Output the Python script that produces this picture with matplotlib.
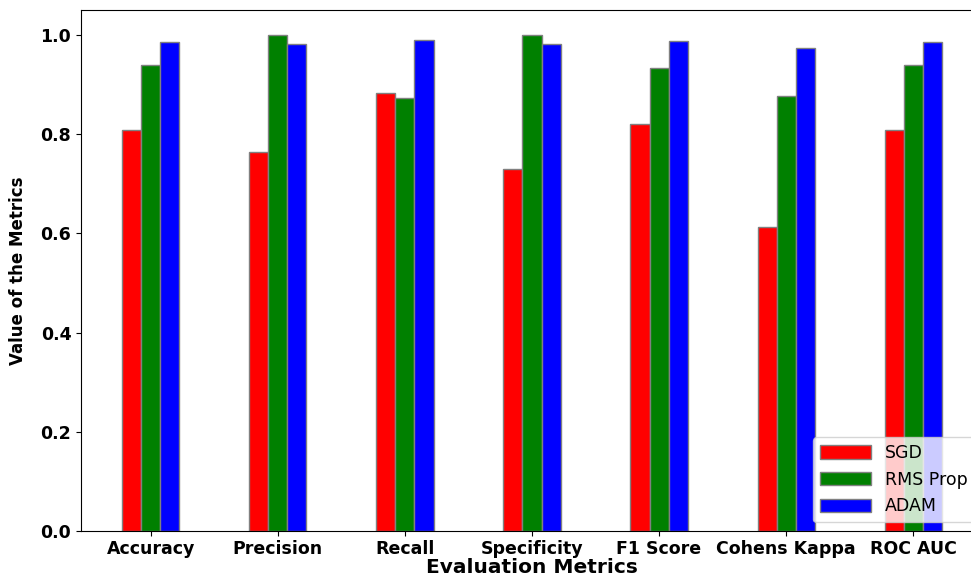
import numpy as np
import matplotlib
matplotlib.use('Agg')
import matplotlib.pyplot as plt

metrics = ['Accuracy', 'Precision', 'Recall', 'Specificity', 'F1 Score', 'Cohens Kappa', 'ROC AUC']
sgd     = [0.808, 0.763, 0.883, 0.729, 0.820, 0.613, 0.808]
rms     = [0.939, 0.999, 0.873, 0.999, 0.933, 0.876, 0.939]
adam    = [0.986, 0.981, 0.990, 0.981, 0.987, 0.973, 0.986]
yticks  = [0.0, 0.2, 0.4, 0.6, 0.8, 1.0]

w = 0.15
x = np.arange( len( metrics ) )

fig = plt.figure( figsize = ( 9.71, 5.78 ), dpi = 100 )
ax = fig.add_axes( [ 0.0834, 0.0813, 0.929, 0.9014 ] )

ax.bar( x - w, sgd,  w, color = 'red',   edgecolor = 'grey', label = 'SGD' )
ax.bar( x,     rms,  w, color = 'green', edgecolor = 'grey', label = 'RMS Prop' )
ax.bar( x + w, adam, w, color = 'blue',  edgecolor = 'grey', label = 'ADAM' )

ax.set_xticks( x )
ax.set_xticklabels( metrics, fontweight = 'bold', fontsize = 12.5 )
ax.set_yticks( yticks )
ax.set_yticklabels( [ '%.1f' % v for v in yticks ], fontweight = 'bold', fontsize = 12.5 )
ax.tick_params( axis = 'x', pad = 3 )
ax.set_ylim( 0, 1.05 )
ax.set_xlim( -0.55, 6.55 )

ax.set_xlabel( 'Evaluation Metrics', fontweight = 'bold', fontsize = 14.5, labelpad = 0 )
ax.set_ylabel( 'Value of the Metrics', fontweight = 'bold', fontsize = 12, labelpad = 10 )

ax.legend( loc = 'lower right', fontsize = 12.5, handlelength = 2.9, handleheight = 0.8 )

fig.savefig( 'out.png' )
